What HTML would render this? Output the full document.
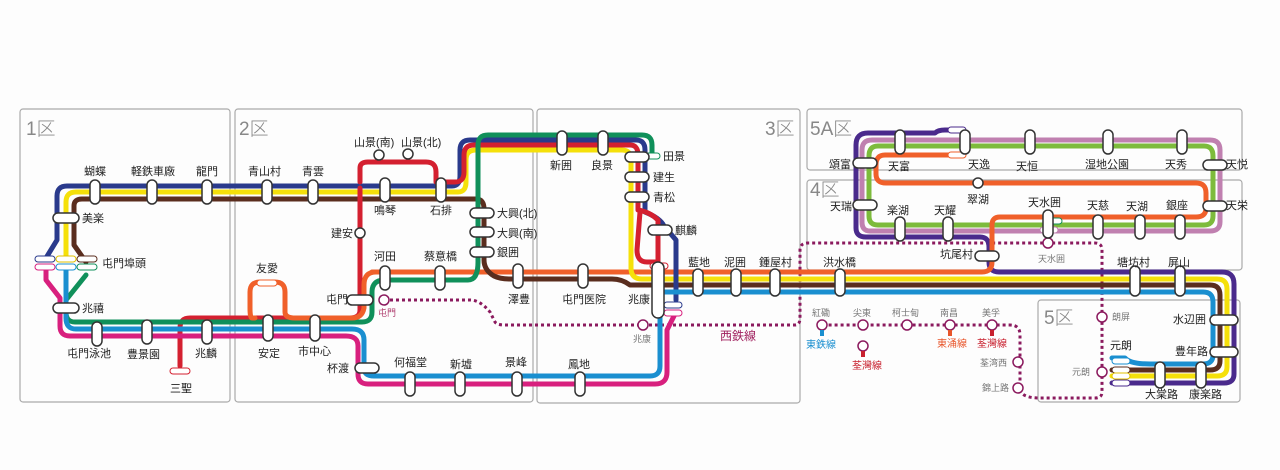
<!DOCTYPE html>
<html><head><meta charset="utf-8"><style>
html,body{margin:0;padding:0;background:#fff;}
svg{display:block;}
text{font-family:"Liberation Sans","Noto Sans CJK JP",sans-serif;font-size:11px;fill:#222;}
.z{font-size:19px;fill:#888;font-weight:300;}
.s{font-size:9px;fill:#777;}
.ln{fill:none;stroke-width:5;stroke-linejoin:round;stroke-linecap:round;}
.st{fill:#fff;stroke:#333;stroke-width:1.5;}
.box{fill:none;stroke:#aaa;stroke-width:1.2;}
.dot{fill:none;stroke:#8b1a5e;stroke-width:3;stroke-dasharray:3 3;}
.wc{fill:#fff;stroke:#8b1a5e;stroke-width:1.5;}
</style></head><body>
<svg width="1280" height="470" viewBox="0 0 1280 470">
<rect width="1280" height="470" fill="#fdfdfd"/>
<!-- zone boxes -->
<rect class="box" x="20" y="109" width="210" height="293" rx="3"/>
<rect class="box" x="235" y="109" width="298" height="293" rx="3"/>
<rect class="box" x="537" y="109" width="263" height="294" rx="3"/>
<rect class="box" x="807" y="109" width="435" height="61" rx="3"/>
<rect class="box" x="807" y="180" width="435" height="90" rx="3"/>
<rect class="box" x="1038" y="300" width="202" height="102" rx="3"/>
<text class="z" x="26" y="135">1区</text>
<text class="z" x="239" y="135">2区</text>
<text class="z" x="765" y="135">3区</text>
<text class="z" x="810" y="135">5A区</text>
<text class="z" x="810" y="196">4区</text>
<text class="z" x="1044" y="324">5区</text>

<!-- West rail dotted -->
<path class="dot" d="M390,300 L470,300 Q480,300 490,312 L495,322 Q497,325 505,325 L795,325 Q800,325 800,318 L800,250 Q800,243 808,243 L1095,243 Q1102,243 1102,250 L1102,392 Q1102,398 1095,398 L1040,398 Q1020,398 1020,388 L1020,335 Q1020,325 1010,325 L822,325"/>
<circle class="wc" cx="384" cy="300" r="5"/><text class="s" x="378" y="316" style="fill:#b04070">屯門</text>
<circle class="wc" cx="643" cy="325" r="5"/><text class="s" x="633" y="342">兆康</text>
<circle class="wc" cx="1048" cy="243" r="5"/><text class="s" x="1038" y="262">天水囲</text>
<circle class="wc" cx="1102" cy="317" r="5"/><text class="s" x="1112" y="320">朗屏</text>
<circle class="wc" cx="1102" cy="372" r="5"/><text class="s" x="1072" y="375">元朗</text>
<circle class="wc" cx="1018" cy="362" r="5"/><text class="s" x="980" y="366">荃湾西</text>
<circle class="wc" cx="1018" cy="388" r="5"/><text class="s" x="982" y="391">錦上路</text>
<circle class="wc" cx="822" cy="325" r="5"/><rect x="820" y="330" width="4" height="6" fill="#1a8fd0"/>
<circle class="wc" cx="863" cy="325" r="5"/>
<circle class="wc" cx="907" cy="325" r="5"/>
<circle class="wc" cx="950" cy="325" r="5"/><rect x="948" y="330" width="4" height="6" fill="#e8552a"/>
<circle class="wc" cx="992" cy="325" r="5"/><rect x="990" y="330" width="4" height="6" fill="#c8202e"/>
<circle class="wc" cx="863" cy="346" r="5"/><rect x="861" y="351" width="4" height="6" fill="#c8202e"/>
<text class="s" x="812" y="316">紅磡</text><text class="s" x="853" y="316">尖東</text><text class="s" x="892" y="316">柯士甸</text><text class="s" x="940" y="316">南昌</text><text class="s" x="982" y="316">美孚</text>
<text x="806" y="348" style="font-size:10px;fill:#1a8fd0">東鉄線</text>
<text x="852" y="369" style="font-size:10px;fill:#c8202e">荃灣線</text>
<text x="937" y="347" style="font-size:10px;fill:#e8552a">東涌線</text>
<text x="977" y="347" style="font-size:10px;fill:#c8202e">荃灣線</text>
<text x="720" y="340" style="font-size:12px;fill:#a0205e">西鉄線</text>

<!-- LRT lines -->
<!-- 5A/4 loops -->
<path class="ln" stroke="#c080b0" d="M872,140 L1210,140 Q1220,140 1220,150 L1220,222 Q1220,231 1210,231 L870,231 Q862,231 862,222 L862,150 Q862,140 872,140 Z"/>
<path class="ln" stroke="#7dbb3c" d="M878,146 L1204,146 Q1213,146 1213,156 L1213,216 Q1213,225 1204,225 L878,225 Q869,225 869,216 L869,156 Q869,146 878,146 Z"/>
<path class="ln" stroke="#4a2a8c" d="M958,130 L945,130 Q938,130 935,133 L868,133 Q856,133 856,145 L856,228 Q856,237 866,237 L980,237 Q989,237 989,247 L989,262 Q989,272 999,272 L1222,272 Q1234,272 1234,284 L1234,374 Q1234,383 1224,383 L1112,383"/>
<path class="ln" stroke="#f0602a" d="M955,155 L885,155 Q876,155 876,165 L876,174 Q876,183 886,183 L1196,183 Q1206,183 1206,193 L1206,208 Q1206,217 1196,217 L1000,217 Q992,217 992,225 L992,262 Q992,272 982,272 L372,272"/>
<!-- yellow -->
<path class="ln" stroke="#f5e00a" d="M66,258 L66,202 Q66,192 76,192 L458,192 Q466,192 466,182 L466,160 Q466,150 476,150 L622,150 Q631,150 631,160 L631,268 Q631,279 642,279 L1217,279 Q1227,279 1227,289 L1227,367 Q1227,376 1217,376 L1112,376"/>
<!-- brown -->
<path class="ln" stroke="#5a2d1e" d="M86,262 L74,245 L74,206 Q74,199 82,199 L476,199 Q484,199 484,209 L484,260 Q484,270 494,276 Q500,279 510,279 L612,279 Q622,279 630,285 L1210,285 Q1220,285 1220,295 L1220,361 Q1220,370 1210,370 L1112,370"/>
<!-- blue (navy) -->
<path class="ln" stroke="#2a3a8c" d="M46,258 L57,240 L57,196 Q57,186 67,186 L452,186 Q460,186 460,176 L460,150 Q460,140 470,140 L636,140 Q645,140 645,150 L645,212 Q660,218 664,226 L676,240 L676,300"/>
<!-- red -->
<path class="ln" stroke="#d42030" d="M360,188 L360,310 Q360,318 350,318 L190,318 Q180,318 180,328 L180,366"/>
<path class="ln" stroke="#d42030" d="M360,182 L360,168 Q360,162 368,162 L426,162 Q436,162 436,172 L436,182 L455,182 Q464,182 464,172 L464,155 Q464,145 474,145 L630,145 Q638,145 638,155 L638,210 Q650,212 658,220 L658,262 M640,212 L637,250 Q637,262 647,262 L655,262"/>
<!-- green -->
<path class="ln" stroke="#10905a" d="M652,157 L652,145 Q652,135 642,135 L488,135 Q478,135 478,145 L478,262 Q478,280 468,280 L385,280 Q372,280 372,292 L372,312 Q372,322 362,322 L75,322 Q66,322 66,312 L66,300 L86,275"/>
<!-- light blue -->
<path class="ln" stroke="#1a8fd0" d="M66,270 L66,318 Q66,329 76,329 L352,329 Q364,329 364,340 L364,368 Q364,376 374,376 L650,376 Q660,376 660,366 L660,292 L700,292 L1203,292 Q1213,292 1213,302 L1213,355 Q1213,364 1203,364 L1150,364 Q1130,364 1125,358 L1112,358"/>
<!-- magenta -->
<path class="ln" stroke="#d8207e" d="M46,270 L46,280 L60,298 L60,326 Q60,336 70,336 L346,336 Q358,336 358,346 L358,374 Q358,384 368,384 L655,384 Q667,384 667,372 L667,330 L675,314"/>
<!-- orange little loop (友愛) -->
<path class="ln" stroke="#f0602a" d="M255,318 L252,318 Q250,318 250,308 L250,292 Q250,282 260,282 L275,282 Q285,282 285,292 L285,312 Q285,318 295,318 L352,318 Q362,318 364,308 L364,285 Q364,272 376,272"/>
<!-- small route labels -->
<g style="font-size:5px">
<rect x="35" y="256" width="20" height="6" rx="3" fill="#fff" stroke="#2a3a8c"/>
<rect x="56" y="256" width="20" height="6" rx="3" fill="#fff" stroke="#e0c000"/>
<rect x="77" y="256" width="20" height="6" rx="3" fill="#fff" stroke="#5a2d1e"/>
<rect x="35" y="264" width="20" height="6" rx="3" fill="#fff" stroke="#d8207e"/>
<rect x="56" y="264" width="20" height="6" rx="3" fill="#fff" stroke="#1a8fd0"/>
<rect x="77" y="264" width="20" height="6" rx="3" fill="#fff" stroke="#10905a"/>
<rect x="170" y="368" width="20" height="6" rx="3" fill="#fff" stroke="#d42030"/>
<rect x="257" y="280" width="20" height="6" rx="3" fill="#fff" stroke="#f0602a"/>
<rect x="640" y="153" width="20" height="6" rx="3" fill="#fff" stroke="#10905a"/>
<rect x="650" y="263" width="18" height="6" rx="3" fill="#fff" stroke="#d42030"/>
<rect x="664" y="302" width="18" height="6" rx="3" fill="#fff" stroke="#2a3a8c"/>
<rect x="664" y="310" width="18" height="6" rx="3" fill="#fff" stroke="#d8207e"/>
<rect x="948" y="127" width="18" height="6" rx="3" fill="#fff" stroke="#4a2a8c"/>
<rect x="948" y="152" width="18" height="6" rx="3" fill="#fff" stroke="#f0602a"/>
<rect x="1040" y="227" width="18" height="6" rx="3" fill="#fff" stroke="#c080b0"/>
<rect x="1044" y="218" width="18" height="6" rx="3" fill="#fff" stroke="#10905a"/>
<rect x="1112" y="358" width="18" height="6" rx="3" fill="#fff" stroke="#1a8fd0"/>
<rect x="1112" y="367" width="18" height="6" rx="3" fill="#fff" stroke="#5a2d1e"/>
<rect x="1112" y="373" width="18" height="6" rx="3" fill="#fff" stroke="#e0c000"/>
<rect x="1112" y="380" width="18" height="6" rx="3" fill="#fff" stroke="#4a2a8c"/>
</g>
<circle cx="22" cy="264" r="0"/>

<!-- vertical station markers -->
<g class="st">
<rect x="90" y="180" width="10" height="24" rx="5"/>
<rect x="147" y="180" width="10" height="24" rx="5"/>
<rect x="202" y="180" width="10" height="24" rx="5"/>
<rect x="262" y="180" width="10" height="24" rx="5"/>
<rect x="308" y="180" width="10" height="24" rx="5"/>
<rect x="380" y="178" width="10" height="24" rx="5"/>
<rect x="436" y="178" width="10" height="24" rx="5"/>
<rect x="92" y="322" width="10" height="24" rx="5"/>
<rect x="142" y="320" width="10" height="24" rx="5"/>
<rect x="202" y="320" width="10" height="24" rx="5"/>
<rect x="263" y="315" width="10" height="26" rx="5"/>
<rect x="310" y="315" width="10" height="26" rx="5"/>
<rect x="405" y="372" width="10" height="24" rx="5"/>
<rect x="455" y="372" width="10" height="24" rx="5"/>
<rect x="512" y="372" width="10" height="24" rx="5"/>
<rect x="575" y="372" width="10" height="24" rx="5"/>
<rect x="380" y="266" width="10" height="24" rx="5"/>
<rect x="435" y="266" width="10" height="24" rx="5"/>
<rect x="513" y="264" width="10" height="24" rx="5"/>
<rect x="578" y="264" width="10" height="24" rx="5"/>
<rect x="693" y="269" width="10" height="27" rx="5"/>
<rect x="731" y="269" width="10" height="27" rx="5"/>
<rect x="770" y="269" width="10" height="27" rx="5"/>
<rect x="835" y="269" width="10" height="27" rx="5"/>
<rect x="1130" y="266" width="10" height="30" rx="5"/>
<rect x="1175" y="266" width="10" height="30" rx="5"/>
<rect x="557" y="131" width="10" height="24" rx="5"/>
<rect x="598" y="131" width="10" height="24" rx="5"/>
<rect x="895" y="130" width="10" height="24" rx="5"/>
<rect x="960" y="130" width="10" height="24" rx="5"/>
<rect x="1025" y="130" width="10" height="24" rx="5"/>
<rect x="1103" y="130" width="10" height="24" rx="5"/>
<rect x="1177" y="130" width="10" height="24" rx="5"/>
<rect x="895" y="217" width="10" height="24" rx="5"/>
<rect x="943" y="217" width="10" height="24" rx="5"/>
<rect x="1043" y="210" width="10" height="28" rx="5"/>
<rect x="1093" y="215" width="10" height="24" rx="5"/>
<rect x="1135" y="215" width="10" height="24" rx="5"/>
<rect x="1175" y="215" width="10" height="24" rx="5"/>
<rect x="1155" y="362" width="10" height="26" rx="5"/>
<rect x="1196" y="362" width="10" height="26" rx="5"/>
<rect x="652" y="262" width="12" height="56" rx="6"/>
<!-- horizontal -->
<rect x="53" y="213" width="26" height="10" rx="5"/>
<rect x="53" y="303" width="26" height="10" rx="5"/>
<rect x="470" y="208" width="24" height="10" rx="5"/>
<rect x="470" y="227" width="24" height="10" rx="5"/>
<rect x="470" y="247" width="24" height="10" rx="5"/>
<rect x="347" y="295" width="26" height="10" rx="5"/>
<rect x="355" y="363" width="24" height="10" rx="5"/>
<rect x="625" y="152" width="24" height="10" rx="5"/>
<rect x="625" y="172" width="24" height="10" rx="5"/>
<rect x="625" y="192" width="24" height="10" rx="5"/>
<rect x="648" y="225" width="24" height="10" rx="5"/>
<rect x="853" y="158" width="24" height="10" rx="5"/>
<rect x="853" y="200" width="24" height="10" rx="5"/>
<rect x="975" y="251" width="24" height="10" rx="5"/>
<rect x="1203" y="160" width="24" height="10" rx="5"/>
<rect x="1203" y="201" width="24" height="10" rx="5"/>
<rect x="1210" y="315" width="28" height="10" rx="5"/>
<rect x="1210" y="347" width="28" height="10" rx="5"/>
</g>
<g class="st"><circle cx="379" cy="155" r="5"/><circle cx="408" cy="154" r="5"/><circle cx="360" cy="233" r="5"/><circle cx="978" cy="183" r="5"/></g>

<!-- labels -->
<text x="84" y="175">蝴蝶</text><text x="131" y="175">軽鉄車廠</text><text x="196" y="175">龍門</text>
<text x="248" y="175">青山村</text><text x="302" y="175">青雲</text>
<text x="354" y="146">山景(南)</text><text x="401" y="146">山景(北)</text>
<text x="374" y="214">鳴琴</text><text x="430" y="214">石排</text>
<text x="82" y="222">美楽</text><text x="102" y="267">屯門埠頭</text><text x="82" y="312">兆禧</text>
<text x="331" y="237">建安</text>
<text x="497" y="217">大興(北)</text><text x="497" y="237">大興(南)</text><text x="497" y="256">銀囲</text>
<text x="374" y="260">河田</text><text x="424" y="260">蔡意橋</text>
<text x="256" y="272">友愛</text>
<text x="326" y="303">屯門</text>
<text x="67" y="357">屯門泳池</text><text x="127" y="358">豊景園</text><text x="195" y="357">兆麟</text>
<text x="258" y="357">安定</text><text x="298" y="355">市中心</text><text x="170" y="392">三聖</text>
<text x="327" y="372">杯渡</text>
<text x="394" y="366">何福堂</text><text x="450" y="368">新墟</text><text x="505" y="366">景峰</text><text x="568" y="368">鳳地</text>
<text x="508" y="303">澤豊</text><text x="562" y="303">屯門医院</text><text x="628" y="303">兆康</text>
<text x="550" y="169">新囲</text><text x="591" y="169">良景</text>
<text x="663" y="160">田景</text><text x="653" y="181">建生</text><text x="653" y="201">青松</text><text x="675" y="234">麒麟</text>
<text x="688" y="266">藍地</text><text x="724" y="266">泥囲</text><text x="759" y="266">鍾屋村</text><text x="823" y="266">洪水橋</text>
<text x="829" y="168">頌富</text><text x="888" y="170">天富</text><text x="968" y="168">天逸</text><text x="1016" y="170">天恒</text>
<text x="1085" y="168">湿地公園</text><text x="1165" y="168">天秀</text><text x="1226" y="168">天悦</text>
<text x="967" y="203">翠湖</text>
<text x="830" y="210">天瑞</text><text x="887" y="214">楽湖</text><text x="934" y="214">天耀</text>
<text x="1028" y="206">天水囲</text><text x="1087" y="209">天慈</text><text x="1126" y="210">天湖</text><text x="1166" y="209">銀座</text>
<text x="1226" y="209">天栄</text>
<text x="940" y="258">坑尾村</text>
<text x="1117" y="266">塘坊村</text><text x="1168" y="266">屏山</text>
<text x="1173" y="323">水辺囲</text><text x="1175" y="355">豊年路</text>
<text x="1110" y="349">元朗</text>
<text x="1145" y="398">大棠路</text><text x="1189" y="398">康楽路</text>
</svg>
</body></html>
